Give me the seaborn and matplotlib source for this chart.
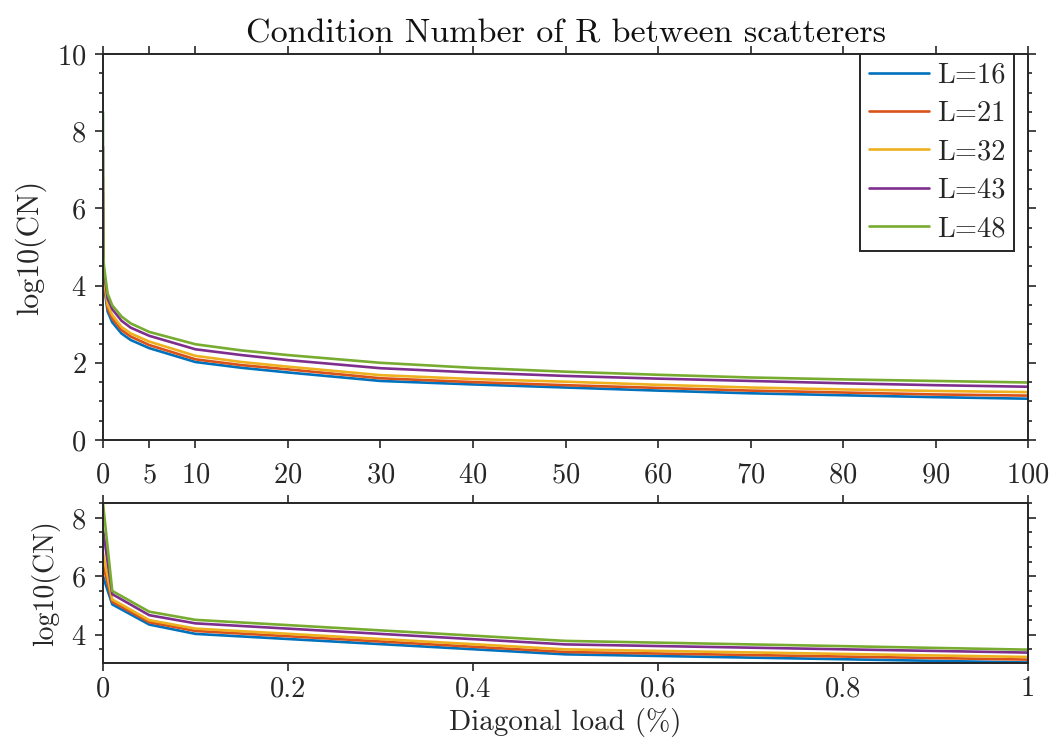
import numpy as np
import pandas as pd
import matplotlib
matplotlib.use("Agg")
import matplotlib.pyplot as plt
from matplotlib.ticker import MultipleLocator, FixedLocator, FuncFormatter
import seaborn as sns

# Diagonal load (%) and log10 condition number for each array size L
load_pct = [0, 0.01, 0.05, 0.1, 0.5, 1, 2, 3, 5, 10, 15, 20, 30, 40, 50, 60, 70, 80, 90, 100]
L_values = [16, 21, 32, 43, 48]
cn_L16 = [6.0, 5.04, 4.35, 4.03, 3.33, 3.05, 2.76, 2.59, 2.38, 2.02, 1.87, 1.75, 1.53, 1.44, 1.36, 1.28, 1.21, 1.16, 1.11, 1.07]
cn_L21 = [6.4, 5.13, 4.43, 4.13, 3.41, 3.15, 2.85, 2.68, 2.46, 2.09, 1.94, 1.83, 1.60, 1.50, 1.42, 1.35, 1.28, 1.23, 1.18, 1.15]
cn_L32 = [6.8, 5.21, 4.50, 4.21, 3.50, 3.24, 2.93, 2.76, 2.55, 2.18, 2.02, 1.90, 1.68, 1.58, 1.51, 1.43, 1.36, 1.31, 1.27, 1.24]
cn_L43 = [7.6, 5.39, 4.67, 4.39, 3.67, 3.39, 3.09, 2.91, 2.70, 2.35, 2.20, 2.07, 1.86, 1.75, 1.66, 1.59, 1.53, 1.47, 1.42, 1.38]
cn_L48 = [8.5, 5.50, 4.79, 4.51, 3.79, 3.49, 3.20, 3.02, 2.80, 2.48, 2.32, 2.20, 2.00, 1.87, 1.77, 1.69, 1.62, 1.57, 1.53, 1.49]
series = [cn_L16, cn_L21, cn_L32, cn_L43, cn_L48]

top_xticks = [0, 5, 10, 20, 30, 40, 50, 60, 70, 80, 90, 100]
bottom_xticks = [0, 0.2, 0.4, 0.6, 0.8, 1]
colors = ["#0072BD", "#D95319", "#EDB120", "#7E2F8E", "#77AC30"]

frames = []
for L, vals in zip(L_values, series):
    frames.append(pd.DataFrame({"load": load_pct, "cn": vals, "L": f"L={L}"}))
df = pd.concat(frames, ignore_index=True)
hue_order = [f"L={L}" for L in L_values]

sns.set_style("ticks")
plt.rcParams["font.family"] = ["cmr10", "DejaVu Serif"]
plt.rcParams["mathtext.fontset"] = "cm"
plt.rcParams["axes.formatter.use_mathtext"] = True

fig = plt.figure(figsize=(10.52, 7.40), dpi=100)
ax1 = fig.add_axes([0.0979, 0.4054, 0.8793, 0.5216])
ax2 = fig.add_axes([0.0979, 0.1047, 0.8793, 0.2152])

spine_c = "#262626"
fs_tick = 20.5

for ax in (ax1, ax2):
    sns.lineplot(data=df, x="load", y="cn", hue="L", hue_order=hue_order,
                 palette=colors, linewidth=1.9, ax=ax, estimator=None,
                 sort=False, legend=(ax is ax1))
    for s in ax.spines.values():
        s.set_visible(True)
        s.set_color(spine_c)
        s.set_linewidth(1.4)
    ax.tick_params(which="both", direction="out", color=spine_c,
                   top=True, right=True, width=1.2, labelsize=fs_tick,
                   labelcolor="#262626")
    ax.tick_params(which="major", length=6)
    ax.tick_params(which="minor", length=3)
    ax.tick_params(axis="y", pad=6)
    ax.set_xlabel("")
    ax.yaxis.set_minor_locator(MultipleLocator(0.5))
    ax.set_facecolor("white")

# upper panel: full range of diagonal load
ax1.set_xlim(0, 100)
ax1.set_ylim(0, 10)
ax1.xaxis.set_major_locator(FixedLocator(top_xticks))
ax1.yaxis.set_major_locator(MultipleLocator(2))
ax1.set_ylabel("log10(CN)", fontsize=21.5, color="#262626", labelpad=8)
ax1.set_title("Condition Number of R between scatterers", fontsize=24.5,
              color="#111111", pad=8)
ax1.tick_params(axis="x", pad=10)

leg = ax1.legend(loc="upper right", fontsize=20.5, frameon=True, fancybox=False,
                 edgecolor="#262626", handlelength=2.1, handletextpad=0.3,
                 borderpad=0.3, labelspacing=0.42, borderaxespad=0.0)
leg.get_frame().set_linewidth(1.4)
leg.get_frame().set_alpha(1)
leg.set_bbox_to_anchor((0.985, 1.0))

# lower panel: zoom on the first percent
all_vals = np.concatenate([np.array(s) for s in series])
mask = np.tile(np.array(load_pct) <= 1, len(series))
ax2.set_xlim(0, 1)
ax2.set_ylim(all_vals[mask].min(), all_vals[mask].max())
ax2.xaxis.set_major_locator(FixedLocator(bottom_xticks))
ax2.xaxis.set_major_formatter(FuncFormatter(lambda v, p: f"{v:g}"))
ax2.yaxis.set_major_locator(MultipleLocator(2))
ax2.set_ylabel("log10(CN)", fontsize=20, color="#262626", labelpad=8)
ax2.set_xlabel("Diagonal load (%)", fontsize=21, color="#262626", labelpad=4)

fig.savefig("out.png", dpi=100, facecolor="white")
